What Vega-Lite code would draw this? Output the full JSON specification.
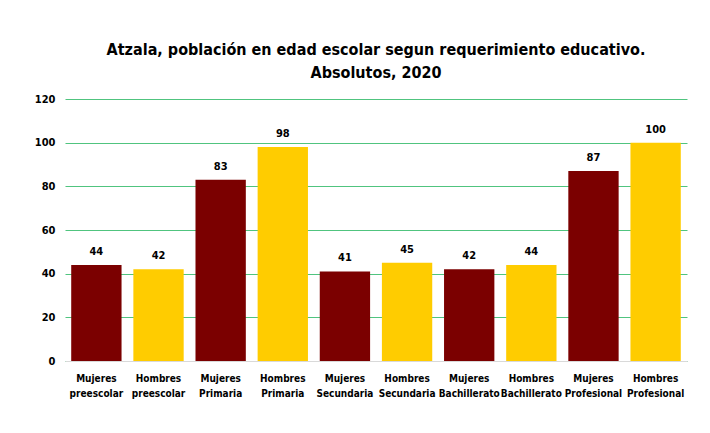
{
  "$schema": "https://vega.github.io/schema/vega-lite/v6.json",
  "width": 622,
  "height": 262,
  "autosize": "none",
  "padding": {"left": 65, "top": 99, "right": 23, "bottom": 72},
  "background": "white",
  "title": {
    "text": ["Atzala, población en edad escolar segun requerimiento educativo.", "Absolutos, 2020"],
    "font": "DejaVu Sans Condensed",
    "fontSize": 16,
    "fontWeight": "bold",
    "color": "#000000",
    "lineHeight": 23,
    "anchor": "middle",
    "offset": 12
  },
  "data": {
    "values": [
      {"label": "Mujeres preescolar", "sex": "Mujeres", "value": 44},
      {"label": "Hombres preescolar", "sex": "Hombres", "value": 42},
      {"label": "Mujeres Primaria", "sex": "Mujeres", "value": 83},
      {"label": "Hombres Primaria", "sex": "Hombres", "value": 98},
      {"label": "Mujeres Secundaria", "sex": "Mujeres", "value": 41},
      {"label": "Hombres Secundaria", "sex": "Hombres", "value": 45},
      {"label": "Mujeres Bachillerato", "sex": "Mujeres", "value": 42},
      {"label": "Hombres Bachillerato", "sex": "Hombres", "value": 44},
      {"label": "Mujeres Profesional", "sex": "Mujeres", "value": 87},
      {"label": "Hombres Profesional", "sex": "Hombres", "value": 100}
    ]
  },
  "encoding": {
    "x": {
      "field": "label",
      "type": "nominal",
      "sort": null,
      "scale": {"paddingInner": 0.19, "paddingOuter": 0.1},
      "axis": {
        "title": null,
        "labelAngle": 0,
        "labelExpr": "split(datum.label, ' ')",
        "labelFont": "DejaVu Sans Condensed",
        "labelFontSize": 10,
        "labelFontWeight": "bold",
        "labelColor": "#000000",
        "labelLineHeight": 15,
        "labelPadding": 12,
        "labelOverlap": false,
        "ticks": false,
        "domainColor": "#d9d9d9",
        "grid": false
      }
    },
    "y": {
      "field": "value",
      "type": "quantitative",
      "scale": {"domain": [0, 120]},
      "axis": {
        "title": null,
        "values": [0, 20, 40, 60, 80, 100, 120],
        "labelFont": "DejaVu Sans Condensed",
        "labelFontSize": 11,
        "labelFontWeight": "bold",
        "labelColor": "#000000",
        "labelPadding": 10,
        "ticks": false,
        "domain": false,
        "gridColor": "#50C47F",
        "gridWidth": 1
      }
    }
  },
  "layer": [
    {
      "mark": {"type": "bar"},
      "encoding": {
        "color": {
          "field": "sex",
          "type": "nominal",
          "scale": {"domain": ["Mujeres", "Hombres"], "range": ["#7B0000", "#FFCC00"]},
          "legend": null
        }
      }
    },
    {
      "mark": {
        "type": "text",
        "baseline": "bottom",
        "dy": -8,
        "font": "DejaVu Sans Condensed",
        "fontSize": 11,
        "fontWeight": "bold",
        "color": "#000000"
      },
      "encoding": {"text": {"field": "value", "type": "quantitative"}}
    }
  ],
  "config": {"view": {"stroke": null}}
}
